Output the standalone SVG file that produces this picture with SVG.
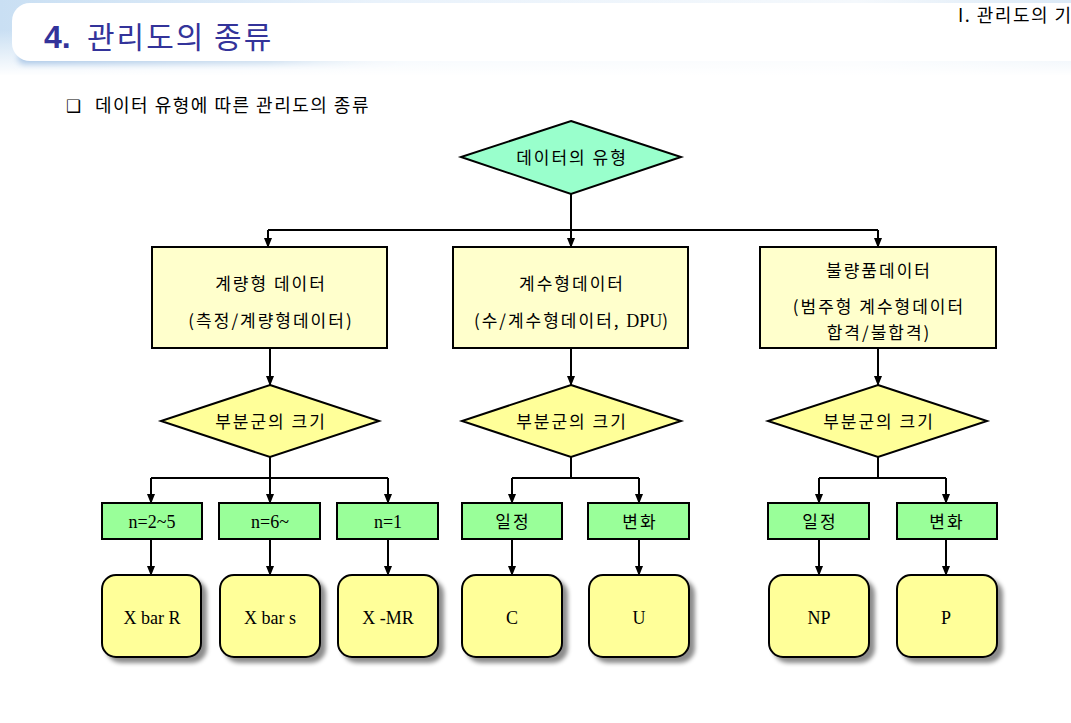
<svg xmlns="http://www.w3.org/2000/svg" width="1071" height="723" viewBox="0 0 1071 723">
<defs>
  <linearGradient id="hdrBg" x1="0" y1="0" x2="1" y2="0">
    <stop offset="0" stop-color="#c9dff3"/>
    <stop offset="0.35" stop-color="#e9f2fb"/>
    <stop offset="0.8" stop-color="#f4f8fc"/>
    <stop offset="1" stop-color="#dbe9f6"/>
  </linearGradient>
  <linearGradient id="hdrV" x1="0" y1="0" x2="0" y2="1">
    <stop offset="0" stop-color="#ffffff" stop-opacity="0"/>
    <stop offset="1" stop-color="#ffffff" stop-opacity="1"/>
  </linearGradient>
  <linearGradient id="panelShadow" x1="0" y1="0" x2="1" y2="0">
    <stop offset="0" stop-color="#a9c6e6"/>
    <stop offset="0.6" stop-color="#cddff0"/>
    <stop offset="1" stop-color="#ffffff" stop-opacity="0"/>
  </linearGradient>
  <filter id="blur4" x="-10%" y="-50%" width="120%" height="200%">
    <feGaussianBlur stdDeviation="3"/>
  </filter>
  <filter id="shadow" x="-20%" y="-20%" width="140%" height="140%">
    <feGaussianBlur in="SourceAlpha" stdDeviation="2"/>
    <feOffset dx="5" dy="5" result="b"/>
    <feFlood flood-color="#000" flood-opacity="0.45"/>
    <feComposite in2="b" operator="in"/>
    <feMerge><feMergeNode/><feMergeNode in="SourceGraphic"/></feMerge>
  </filter>
  <marker id="arr" markerWidth="10" markerHeight="10" refX="9" refY="5" orient="auto" markerUnits="userSpaceOnUse">
    <path d="M0,1 L10,5 L0,9 Z" fill="#000"/>
  </marker>
</defs>
<style>
  .ko { font-family: "Noto Sans CJK KR", "Noto Sans", sans-serif; font-size: 17px; letter-spacing: 2px; fill: #000; }
  .ser { font-family: "Liberation Serif", "Noto Sans CJK KR", serif; font-size: 18px; letter-spacing: 0; fill: #000; }
  .box { stroke: #000; stroke-width: 2; }
  .line { fill: none; stroke: #000; stroke-width: 2; }
  .arrow { fill: none; stroke: #000; stroke-width: 2; marker-end: url(#arr); }
</style>

<!-- page background -->
<rect x="0" y="0" width="1071" height="723" fill="#ffffff"/>

<!-- header -->
<g id="header">
  <rect x="0" y="0" width="1071" height="75" fill="url(#hdrBg)"/>
  <rect x="0" y="30" width="1071" height="46" fill="url(#hdrV)"/>
  <rect x="18" y="52" width="420" height="12" rx="6" fill="url(#panelShadow)" filter="url(#blur4)"/>
  <rect x="12" y="3" width="1120" height="58" rx="18" fill="#ffffff"/>
  <text x="44" y="48" font-family="'Liberation Sans', Arial, sans-serif" font-weight="bold" font-size="32" fill="#33339a">4.</text>
  <text x="87" y="48" font-family="'Noto Sans CJK KR', sans-serif" font-size="30" letter-spacing="2" fill="#33339a">관리도의 종류</text>
  <text x="958" y="22" font-family="'Noto Sans CJK KR', sans-serif" font-size="18" letter-spacing="1.5" fill="#000">I. 관리도의 기</text>
</g>

<!-- subtitle -->
<g id="subtitle">
  <text x="66" y="112" font-family="'DejaVu Sans', sans-serif" font-size="17" fill="#000">❑</text>
  <text x="95" y="112" font-family="'Noto Sans CJK KR', sans-serif" font-size="18" letter-spacing="1.5" fill="#000">데이터 유형에 따른 관리도의 종류</text>
</g>

<!-- connectors -->
<g id="connectors">
  <path class="line" d="M571,194 V230 M268,230 H878"/>
  <path class="arrow" d="M268,230 V247"/>
  <path class="arrow" d="M571,194 V247"/>
  <path class="arrow" d="M878,230 V247"/>

  <path class="arrow" d="M270,348 V385"/>
  <path class="arrow" d="M571,348 V385"/>
  <path class="arrow" d="M878,348 V385"/>

  <path class="line" d="M270,457 V478 M151,478 H388"/>
  <path class="arrow" d="M151,478 V503"/>
  <path class="arrow" d="M270,457 V503"/>
  <path class="arrow" d="M388,478 V503"/>

  <path class="line" d="M571,457 V478 M512,478 H639"/>
  <path class="arrow" d="M512,478 V503"/>
  <path class="arrow" d="M639,478 V503"/>

  <path class="line" d="M878,457 V478 M819,478 H946"/>
  <path class="arrow" d="M819,478 V503"/>
  <path class="arrow" d="M946,478 V503"/>

  <path class="arrow" d="M151,539 V575"/>
  <path class="arrow" d="M270,539 V575"/>
  <path class="arrow" d="M388,539 V575"/>
  <path class="arrow" d="M512,539 V575"/>
  <path class="arrow" d="M639,539 V575"/>
  <path class="arrow" d="M819,539 V575"/>
  <path class="arrow" d="M946,539 V575"/>
</g>

<!-- top decision -->
<g id="data-type">
  <polygon class="box" points="571,121 681,157 571,194 461,157" fill="#99ffcc"/>
  <text class="ko" x="572" y="164" text-anchor="middle">데이터의 유형</text>
</g>

<!-- level 1 -->
<g id="variable-data">
  <rect class="box" x="152" y="247" width="235" height="101" fill="#ffffcc"/>
  <text class="ko" x="271" y="290" text-anchor="middle">계량형 데이터</text>
  <text class="ko" x="271" y="327" text-anchor="middle">(측정/계량형데이터)</text>
</g>
<g id="count-data">
  <rect class="box" x="453" y="247" width="235" height="101" fill="#ffffcc"/>
  <text class="ko" x="572" y="290" text-anchor="middle">계수형데이터</text>
  <text class="ko" x="572" y="327" text-anchor="middle">(수/계수형데이터, <tspan class="ser">DPU</tspan>)</text>
</g>
<g id="defective-data">
  <rect class="box" x="760" y="247" width="236" height="101" fill="#ffffcc"/>
  <text class="ko" x="879" y="277" text-anchor="middle">불량품데이터</text>
  <text class="ko" x="879" y="313" text-anchor="middle">(범주형 계수형데이터</text>
  <text class="ko" x="879" y="339" text-anchor="middle">합격/불합격)</text>
</g>

<!-- level 2 decisions -->
<g id="subgroup-1">
  <polygon class="box" points="270,385 379,421 270,457 161,421" fill="#ffff99"/>
  <text class="ko" x="271" y="428" text-anchor="middle">부분군의 크기</text>
</g>
<g id="subgroup-2">
  <polygon class="box" points="571,385 681,421 571,457 462,421" fill="#ffff99"/>
  <text class="ko" x="572" y="428" text-anchor="middle">부분군의 크기</text>
</g>
<g id="subgroup-3">
  <polygon class="box" points="878,385 987,421 878,457 768,421" fill="#ffff99"/>
  <text class="ko" x="879" y="428" text-anchor="middle">부분군의 크기</text>
</g>

<!-- level 3 conditions -->
<g id="n2-5">
  <rect class="box" x="102" y="503" width="100" height="36" fill="#99ff99"/>
  <text class="ser" x="152" y="528" text-anchor="middle">n=2~5</text>
</g>
<g id="n6">
  <rect class="box" x="219" y="503" width="101" height="36" fill="#99ff99"/>
  <text class="ser" x="270" y="528" text-anchor="middle">n=6~</text>
</g>
<g id="n1">
  <rect class="box" x="337" y="503" width="101" height="36" fill="#99ff99"/>
  <text class="ser" x="388" y="528" text-anchor="middle">n=1</text>
</g>
<g id="const-c">
  <rect class="box" x="462" y="503" width="100" height="36" fill="#99ff99"/>
  <text class="ko" x="513" y="528" text-anchor="middle" font-size="18">일정</text>
</g>
<g id="vary-u">
  <rect class="box" x="588" y="503" width="101" height="36" fill="#99ff99"/>
  <text class="ko" x="640" y="528" text-anchor="middle" font-size="18">변화</text>
</g>
<g id="const-np">
  <rect class="box" x="768" y="503" width="101" height="36" fill="#99ff99"/>
  <text class="ko" x="820" y="528" text-anchor="middle" font-size="18">일정</text>
</g>
<g id="vary-p">
  <rect class="box" x="897" y="503" width="100" height="36" fill="#99ff99"/>
  <text class="ko" x="947" y="528" text-anchor="middle" font-size="18">변화</text>
</g>

<!-- charts -->
<g id="xbar-r">
  <rect class="box" x="102" y="575" width="99" height="82" rx="14" fill="#ffff99" filter="url(#shadow)"/>
  <text class="ser" x="152" y="624" text-anchor="middle">X bar R</text>
</g>
<g id="xbar-s">
  <rect class="box" x="220" y="575" width="100" height="82" rx="14" fill="#ffff99" filter="url(#shadow)"/>
  <text class="ser" x="270" y="624" text-anchor="middle">X bar s</text>
</g>
<g id="x-mr">
  <rect class="box" x="338" y="575" width="100" height="82" rx="14" fill="#ffff99" filter="url(#shadow)"/>
  <text class="ser" x="388" y="624" text-anchor="middle">X -MR</text>
</g>
<g id="c-chart">
  <rect class="box" x="462" y="575" width="100" height="82" rx="14" fill="#ffff99" filter="url(#shadow)"/>
  <text class="ser" x="512" y="624" text-anchor="middle">C</text>
</g>
<g id="u-chart">
  <rect class="box" x="589" y="575" width="100" height="82" rx="14" fill="#ffff99" filter="url(#shadow)"/>
  <text class="ser" x="639" y="624" text-anchor="middle">U</text>
</g>
<g id="np-chart">
  <rect class="box" x="769" y="575" width="100" height="82" rx="14" fill="#ffff99" filter="url(#shadow)"/>
  <text class="ser" x="819" y="624" text-anchor="middle">NP</text>
</g>
<g id="p-chart">
  <rect class="box" x="897" y="575" width="100" height="82" rx="14" fill="#ffff99" filter="url(#shadow)"/>
  <text class="ser" x="946" y="624" text-anchor="middle">P</text>
</g>
</svg>
